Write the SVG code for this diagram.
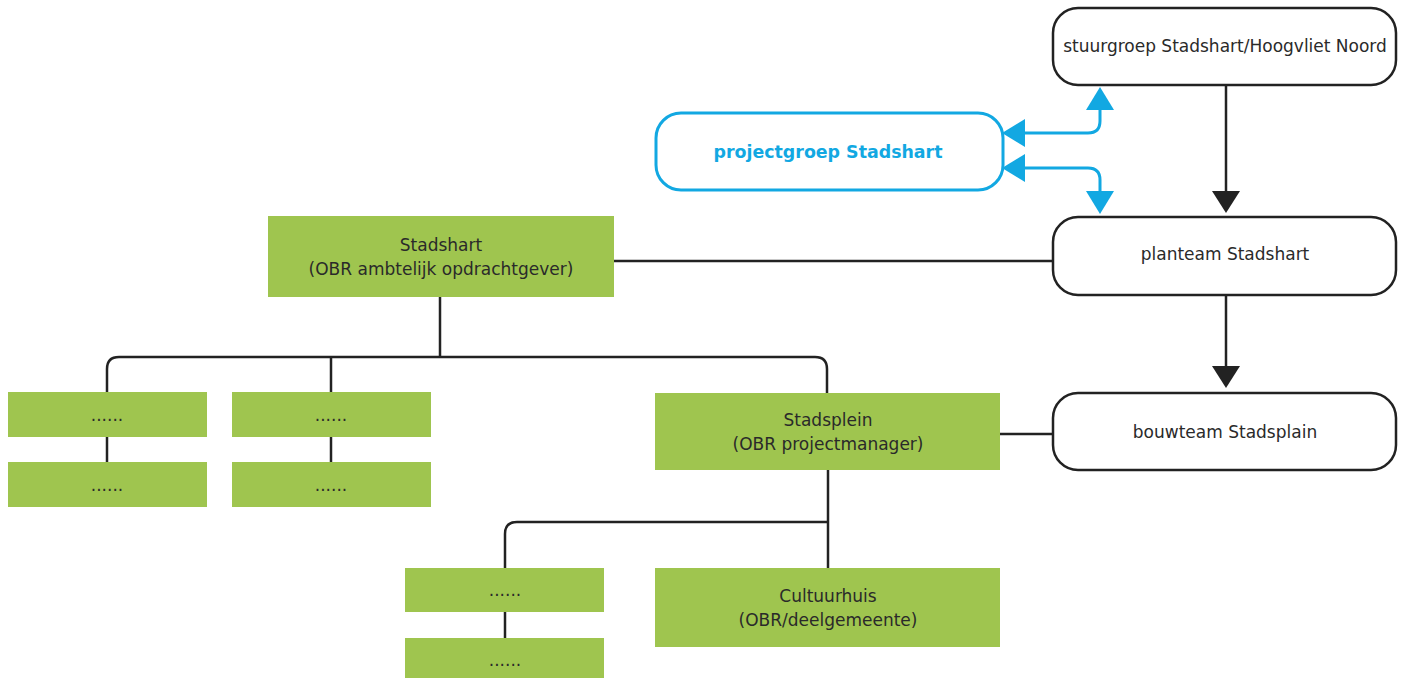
<svg xmlns="http://www.w3.org/2000/svg" width="1404" height="678" viewBox="0 0 1404 678">
<defs>
<style>
.rbox{fill:#fff;stroke:#222;stroke-width:2.5}
.bbox{fill:#fff;stroke:#12a8e2;stroke-width:3}
.g{fill:#9fc54f}
.t{font-family:"DejaVu Sans",Verdana,sans-serif;font-size:17px;fill:#2a2a2a;text-anchor:middle}
.tb{font-family:"DejaVu Sans",Verdana,sans-serif;font-size:17.4px;font-weight:bold;fill:#12a8e2;text-anchor:middle}
.ln{fill:none;stroke:#222;stroke-width:2.5}
.bl{fill:none;stroke:#12a8e2;stroke-width:3}
</style>
<marker id="ak" markerUnits="userSpaceOnUse" viewBox="0 0 22 28" refX="0" refY="14" markerWidth="22" markerHeight="28" orient="auto"><path d="M0,0 L22,14 L0,28 z" fill="#222"/></marker>
<marker id="ab" markerUnits="userSpaceOnUse" viewBox="0 0 23 28" refX="0" refY="14" markerWidth="23" markerHeight="28" orient="auto-start-reverse"><path d="M0,0 L23,14 L0,28 z" fill="#12a8e2"/></marker>
</defs>
<g id="connectors">
<path class="ln" d="M1226,85 V191" marker-end="url(#ak)"/>
<path class="ln" d="M1226,295 V366" marker-end="url(#ak)"/>
<path class="bl" d="M1025,133 H1088 Q1100,133 1100,121 V110" marker-start="url(#ab)" marker-end="url(#ab)"/>
<path class="bl" d="M1025,168 H1088 Q1100,168 1100,180 V191" marker-start="url(#ab)" marker-end="url(#ab)"/>
<path class="ln" d="M614,261 H1053"/>
<path class="ln" d="M1000,434 H1053"/>
<path class="ln" d="M440,297 V357"/>
<path class="ln" d="M107,392 V369 Q107,357 119,357 H815 Q827,357 827,369 V393"/>
<path class="ln" d="M331,357 V392"/>
<path class="ln" d="M107,437 V462"/>
<path class="ln" d="M331,437 V462"/>
<path class="ln" d="M828,470 V568"/>
<path class="ln" d="M505,568 V534 Q505,522 517,522 H828"/>
<path class="ln" d="M505,612 V638"/>
</g>
<g id="stuurgroep"><rect class="rbox" x="1053" y="8" width="343" height="77" rx="25"/><text class="t" x="1225" y="52">stuurgroep Stadshart/Hoogvliet Noord</text></g>
<g id="projectgroep"><rect class="bbox" x="656" y="113" width="347" height="77" rx="25"/><text class="tb" x="828" y="158">projectgroep Stadshart</text></g>
<g id="planteam"><rect class="rbox" x="1053" y="217" width="343" height="78" rx="25"/><text class="t" x="1225" y="260">planteam Stadshart</text></g>
<g id="bouwteam"><rect class="rbox" x="1053" y="393" width="343" height="77" rx="25"/><text class="t" x="1225" y="438">bouwteam Stadsplain</text></g>
<g id="stadshart"><rect class="g" x="268" y="216" width="346" height="81"/><text class="t" x="441" y="251">Stadshart</text><text class="t" x="441" y="275">(OBR ambtelijk opdrachtgever)</text></g>
<g id="a1"><rect class="g" x="8" y="392" width="199" height="45"/><text class="t" x="107" y="421">......</text></g>
<g id="a2"><rect class="g" x="8" y="462" width="199" height="45"/><text class="t" x="107" y="491">......</text></g>
<g id="b1"><rect class="g" x="232" y="392" width="199" height="45"/><text class="t" x="331" y="421">......</text></g>
<g id="b2"><rect class="g" x="232" y="462" width="199" height="45"/><text class="t" x="331" y="491">......</text></g>
<g id="stadsplein"><rect class="g" x="655" y="393" width="345" height="77"/><text class="t" x="828" y="426">Stadsplein</text><text class="t" x="828" y="450">(OBR projectmanager)</text></g>
<g id="c1"><rect class="g" x="405" y="568" width="199" height="44"/><text class="t" x="505" y="596">......</text></g>
<g id="c2"><rect class="g" x="405" y="638" width="199" height="45"/><text class="t" x="505" y="666">......</text></g>
<g id="cultuurhuis"><rect class="g" x="655" y="568" width="345" height="79"/><text class="t" x="828" y="602">Cultuurhuis</text><text class="t" x="828" y="626">(OBR/deelgemeente)</text></g>
</svg>
